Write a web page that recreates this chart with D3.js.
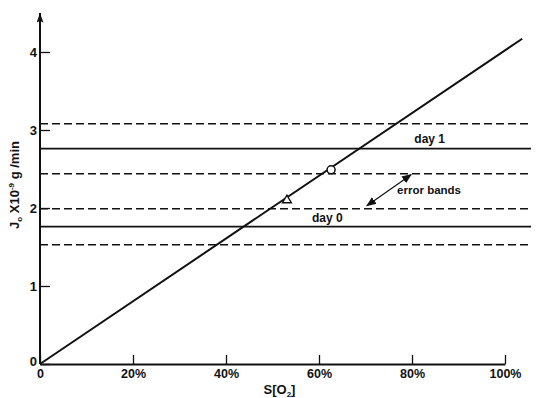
<!DOCTYPE html>
<html>
<head>
<meta charset="utf-8" />
<title>J0 vs S[O2]</title>
<script src="https://d3js.org/d3.v7.min.js"></script>
<style>
  body { margin: 0; background: #fff; }
  svg text { font-family: 'Liberation Sans', Arial, sans-serif; font-weight: bold; fill: #111; }
</style>
</head>
<body>
<div id="chart"></div>
<script>
// values
var xTicks = [0, 20, 40, 60, 80, 100];
var xTickLabels = ["0", "20%", "40%", "60%", "80%", "100%"];
var yTicks = [0, 1, 2, 3, 4];
var dayNames = ["day 0", "day 1"];
var dayLevels = [1.76, 2.76];
var bandLow = [1.53, 2.44];
var bandHigh = [1.99, 3.08];
var fitLine = [[0, 0], [103.7, 4.17]];
var circlePoint = [62.6, 2.49];
var trianglePoint = [53.1, 2.10];

var width = 550, height = 398;
var svg = d3.select("#chart").append("svg")
    .attr("width", width).attr("height", height);

var x = d3.scaleLinear().domain([0, 100]).range([40, 505]);
var y = d3.scaleLinear().domain([0, 4]).range([364, 52]);

// arrow heads
var defs = svg.append("defs");
defs.append("marker").attr("id", "arr")
    .attr("viewBox", "0 0 10 10").attr("refX", 9).attr("refY", 5)
    .attr("markerWidth", 10).attr("markerHeight", 10)
    .attr("markerUnits", "userSpaceOnUse")
    .attr("orient", "auto-start-reverse")
    .append("path").attr("d", "M0,1 L10,5 L0,9 Z").attr("fill", "#111");
defs.append("marker").attr("id", "axarr")
    .attr("viewBox", "0 0 10 14").attr("refX", 5).attr("refY", 0)
    .attr("markerWidth", 7).attr("markerHeight", 12)
    .attr("markerUnits", "userSpaceOnUse")
    .attr("orient", 0)
    .append("path").attr("d", "M5,0 L10,14 L5,11 L0,14 Z").attr("fill", "#111");

// x axis
var xAxis = d3.axisBottom(x)
    .tickValues(xTicks)
    .tickFormat(function (d, i) { return xTickLabels[i]; })
    .tickSizeInner(-9).tickSizeOuter(0).tickPadding(5);
var gx = svg.append("g").attr("transform", "translate(0," + y(0) + ")").call(xAxis);
gx.select(".domain").attr("stroke", "#111").attr("stroke-width", 2);
gx.selectAll(".tick line").attr("stroke", "#111").attr("stroke-width", 1.3);
gx.selectAll("text").style("font-size", "12.5px").attr("fill", "#111");

// y axis
var yAxis = d3.axisLeft(y)
    .tickValues(yTicks)
    .tickFormat(d3.format("d"))
    .tickSizeInner(-10).tickSizeOuter(0).tickPadding(3);
var gy = svg.append("g").attr("transform", "translate(" + x(0) + ",0)").call(yAxis);
gy.select(".domain").remove();
gy.selectAll(".tick line").attr("stroke", "#111").attr("stroke-width", 1.3);
gy.selectAll("text").style("font-size", "13px").attr("fill", "#111")
    .attr("dy", function (d) { return d === 0 ? "0.1em" : "0.32em"; });

// y axis line with arrow
svg.append("line")
    .attr("x1", x(0)).attr("x2", x(0))
    .attr("y1", y(0)).attr("y2", y(4.5))
    .attr("stroke", "#111").attr("stroke-width", 2)
    .attr("marker-end", "url(#axarr)");

// horizontal levels and error bands
var xEnd = 105.6;
dayLevels.forEach(function (v, i) {
    svg.append("line")
        .attr("x1", x(0)).attr("x2", x(xEnd))
        .attr("y1", y(v)).attr("y2", y(v))
        .attr("stroke", "#111").attr("stroke-width", 1.7);
    [bandLow[i], bandHigh[i]].forEach(function (b) {
        svg.append("line")
            .attr("x1", x(0)).attr("x2", x(xEnd))
            .attr("y1", y(b)).attr("y2", y(b))
            .attr("stroke", "#111").attr("stroke-width", 1.5)
            .attr("stroke-dasharray", "8,4");
    });
});

// fitted line
var line = d3.line().x(function (d) { return x(d[0]); }).y(function (d) { return y(d[1]); });
svg.append("path").datum(fitLine)
    .attr("d", line)
    .attr("fill", "none").attr("stroke", "#111").attr("stroke-width", 2);

// measured points
svg.append("circle")
    .attr("cx", x(circlePoint[0])).attr("cy", y(circlePoint[1])).attr("r", 4)
    .attr("fill", "#fff").attr("stroke", "#111").attr("stroke-width", 1.5);
svg.append("path")
    .attr("d", d3.symbol().type(d3.symbolTriangle).size(34))
    .attr("transform", "translate(" + x(trianglePoint[0]) + "," + y(trianglePoint[1]) + ")")
    .attr("fill", "#fff").attr("stroke", "#111").attr("stroke-width", 1.4);

// labels
svg.append("text").attr("x", x(80.5)).attr("y", y(dayLevels[1]) - 6)
    .style("font-size", "12px").text(dayNames[1]);
svg.append("text").attr("x", x(58.5)).attr("y", y(dayLevels[0]) - 5)
    .style("font-size", "12px").text(dayNames[0]);
svg.append("text").attr("x", x(76.8)).attr("y", y(2.18))
    .style("font-size", "11.5px").text("error bands");

// double arrow between bands
svg.append("line")
    .attr("x1", x(70.3)).attr("y1", y(bandHigh[0]) - 3)
    .attr("x2", x(79.8)).attr("y2", y(bandLow[1]) + 1)
    .attr("stroke", "#111").attr("stroke-width", 1.2)
    .attr("marker-start", "url(#arr)").attr("marker-end", "url(#arr)");

// axis titles
var xt = svg.append("text").attr("x", x(51.5)).attr("y", 394)
    .attr("text-anchor", "middle").style("font-size", "13px");
xt.append("tspan").text("S[O");
xt.append("tspan").attr("dy", 3).style("font-size", "8px").text("2");
xt.append("tspan").attr("dy", -3).text("]");

var yt = svg.append("text")
    .attr("transform", "translate(19,185) rotate(-90)")
    .attr("text-anchor", "middle").style("font-size", "13px");
yt.append("tspan").text("J");
yt.append("tspan").attr("dy", 3).style("font-size", "8px").text("o");
yt.append("tspan").attr("dy", -3).text(" X10");
yt.append("tspan").attr("dy", -5).style("font-size", "8px").text("-9");
yt.append("tspan").attr("dy", 5).text(" g /min");
</script>
</body>
</html>
